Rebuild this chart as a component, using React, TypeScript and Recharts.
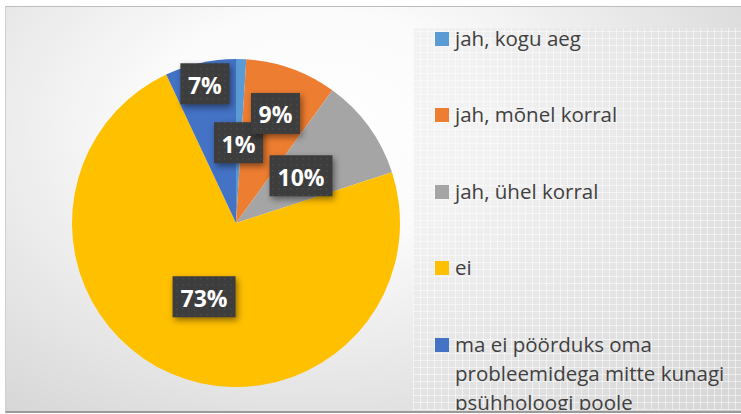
import React from 'react';
import { PieChart, Pie, Cell, Legend } from 'recharts';

const categories = [
  'jah, kogu aeg',
  'jah, mõnel korral',
  'jah, ühel korral',
  'ei',
  'ma ei pöörduks oma probleemidega mitte kunagi psühholoogi poole',
];
const values = [1, 9, 10, 73, 7];
const colors = ['#5B9BD5', '#ED7D31', '#A5A5A5', '#FFC000', '#4472C4'];
// label distance from centre as a fraction of the radius (Excel "best fit")
const labelRadius = [0.49, 0.71, 0.49, 0.49, 0.87];

const data = categories.map((name, i) => ({ name, value: values[i] }));

const RADIAN = Math.PI / 180;

const renderLabel = (props: any) => {
  const { cx, cy, midAngle, outerRadius, index, percent } = props;
  const r = outerRadius * labelRadius[index];
  const x = cx + r * Math.cos(-midAngle * RADIAN);
  const y = cy + r * Math.sin(-midAngle * RADIAN);
  const text = `${Math.round(percent * 100)}%`;
  const w = text.length >= 3 ? 63 : 49;
  const h = 41;
  return (
    <g>
      <rect
        x={x - w / 2}
        y={y - h / 2}
        width={w}
        height={h}
        fill="url(#dotPattern)"
        style={{ filter: 'drop-shadow(2px 3px 3px rgba(0,0,0,0.45))' }}
      />
      <text
        x={x}
        y={y + 1}
        textAnchor="middle"
        dominantBaseline="central"
        fill="#ffffff"
        fontFamily="'Open Sans', sans-serif"
        fontWeight={700}
        fontSize={23}
      >
        {text}
      </text>
    </g>
  );
};

const renderLegend = () => (
  <ul style={{ listStyle: 'none', margin: 0, padding: 0 }}>
    {categories.map((c, i) => (
      <li
        key={c}
        style={{
          display: 'flex',
          alignItems: 'flex-start',
          marginBottom: 47.5,
          fontFamily: "'Open Sans', sans-serif",
          fontSize: 20.5,
          lineHeight: '29px',
          color: '#404040',
        }}
      >
        <span
          style={{
            display: 'inline-block',
            width: 14,
            height: 14,
            background: colors[i],
            marginTop: 8,
            marginRight: 6,
            flex: '0 0 auto',
          }}
        />
        <span style={{ width: 286 }}>{c}</span>
      </li>
    ))}
  </ul>
);

export default function App() {
  return (
    <div
      style={{
        position: 'fixed',
        left: 0,
        top: 0,
        width: 741,
        height: 414,
        background: '#ffffff',
        overflow: 'hidden',
      }}
    >
      <div
        style={{
          position: 'absolute',
          left: 5,
          top: 6,
          width: 740,
          height: 404,
          borderTop: '1px solid #bdbdbd',
          borderLeft: '1px solid #d0d0d0',
          borderBottom: '2px solid #9a9a9a',
          background:
            'radial-gradient(ellipse 75% 95% at 42% 30%, #ffffff 0%, #fbfbfb 30%, #e4e4e4 70%, #d2d2d2 100%)',
        }}
      />
      <div
        style={{
          position: 'absolute',
          left: 413,
          top: 28,
          width: 328,
          height: 382,
          backgroundColor: 'rgba(225,225,225,0.35)',
          backgroundImage:
            'repeating-linear-gradient(0deg, rgba(255,255,255,0.5) 0px, rgba(255,255,255,0.5) 1px, transparent 1px, transparent 7px), repeating-linear-gradient(90deg, rgba(255,255,255,0.5) 0px, rgba(255,255,255,0.5) 1px, transparent 1px, transparent 7px)',
        }}
      />
      <div style={{ position: 'absolute', left: 0, top: 0, width: 741, height: 410, overflow: 'hidden' }}>
        <PieChart width={741} height={414} margin={{ top: 0, right: 0, bottom: 0, left: 0 }}>
          <defs>
            <pattern id="dotPattern" width="6" height="6" patternUnits="userSpaceOnUse">
              <rect width="6" height="6" fill="#3d3d3d" />
              <rect x="2" y="2" width="1.5" height="1.5" fill="#4a4a4a" />
            </pattern>
          </defs>
          <Pie
            data={data}
            dataKey="value"
            nameKey="name"
            cx={236}
            cy={223}
            outerRadius={164}
            startAngle={90}
            endAngle={-270}
            stroke="none"
            isAnimationActive={false}
            labelLine={false}
            label={renderLabel}
          >
            {data.map((d, i) => (
              <Cell key={d.name} fill={colors[i]} />
            ))}
          </Pie>
          <Legend
            layout="vertical"
            align="right"
            verticalAlign="top"
            content={renderLegend}
            wrapperStyle={{ position: 'absolute', left: 435, top: 23.5, width: 306, height: 390 }}
          />
        </PieChart>
      </div>
    </div>
  );
}
